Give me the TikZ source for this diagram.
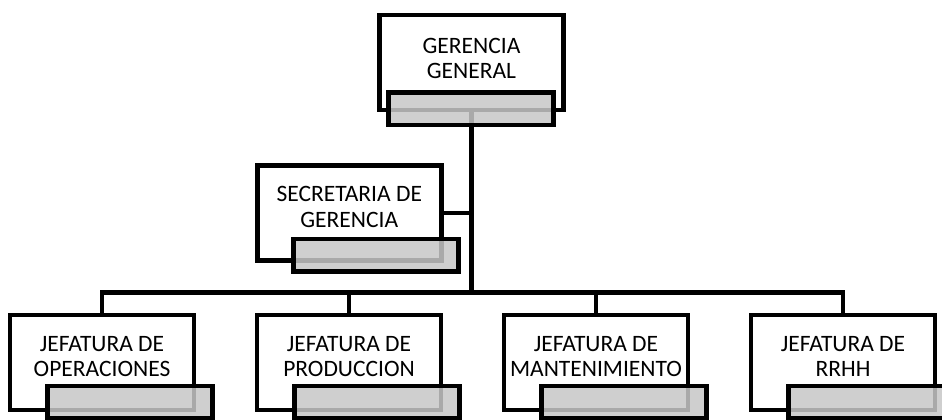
\documentclass[tikz,border=0pt]{standalone}
\usepackage{fontspec}
\setmainfont{Carlito}
\usetikzlibrary{positioning}
\definecolor{orgbargray}{RGB}{199,199,199}

\begin{document}
\begin{tikzpicture}[x=1pt,y=-1pt,
        cargo/.style={draw,line width=4.8pt,fill=white,minimum width=184pt,minimum height=95pt,inner sep=0pt,outer sep=0pt},
        franja/.style={draw,line width=4.8pt,fill=orgbargray,fill opacity=0.85,minimum width=165pt,minimum height=32.5pt,inner sep=0pt,outer sep=0pt,anchor=north west},
        rotulo/.style={align=center,inner sep=0pt,font=\fontsize{23.5}{25.5}\selectfont},
        enlace/.style={line width=4.8pt}]
        \useasboundingbox (0,0) rectangle (942,420);
        \node[cargo] (gerencia) at (471.5,62.5) {};
        \node[cargo] (secretaria) at (349.25,213) {};
        \foreach \nombre/\x in {operaciones/102,produccion/349,mantenimiento/596,rrhh/843} {
            \node[cargo] (\nombre) at (\x,362.5) {};
        }
        \coordinate (troncal) at (gerencia.south |- 0,292.5);
        \draw[enlace] (gerencia.south) -- (troncal);
        \draw[enlace] (secretaria.east) -- (secretaria.east -| troncal);
        \draw[enlace] (operaciones.north) |- (rrhh.north |- troncal) -- (rrhh.north);
        \foreach \nombre in {produccion,mantenimiento} {
            \draw[enlace] (\nombre.north) -- (\nombre.north |- troncal);
        }
        \node[franja] (gerenciabar) at ([shift={(9,77.5)}]gerencia.north west) {};
        \node[franja] (secretariabar) at ([shift={(36.5,73.5)}]secretaria.north west) {};
        \foreach \nombre in {operaciones,produccion,mantenimiento,rrhh} {
            \node[franja] (\nombre bar) at ([shift={(37.5,71)}]\nombre.north west) {};
        }
        \node[rotulo] at ([yshift=4pt]gerencia.center) {GERENCIA\\GENERAL};
        \node[rotulo] at ([yshift=6pt]secretaria.center) {SECRETARIA DE\\GERENCIA};
        \node[rotulo] at ([yshift=6pt]operaciones.center) {JEFATURA DE\\OPERACIONES};
        \node[rotulo] at ([yshift=6pt]produccion.center) {JEFATURA DE\\PRODUCCION};
        \node[rotulo] at ([yshift=6pt]mantenimiento.center) {JEFATURA DE\\MANTENIMIENTO};
        \node[rotulo] at ([yshift=6pt]rrhh.center) {JEFATURA DE\\RRHH};
    \end{tikzpicture}
\end{document}
